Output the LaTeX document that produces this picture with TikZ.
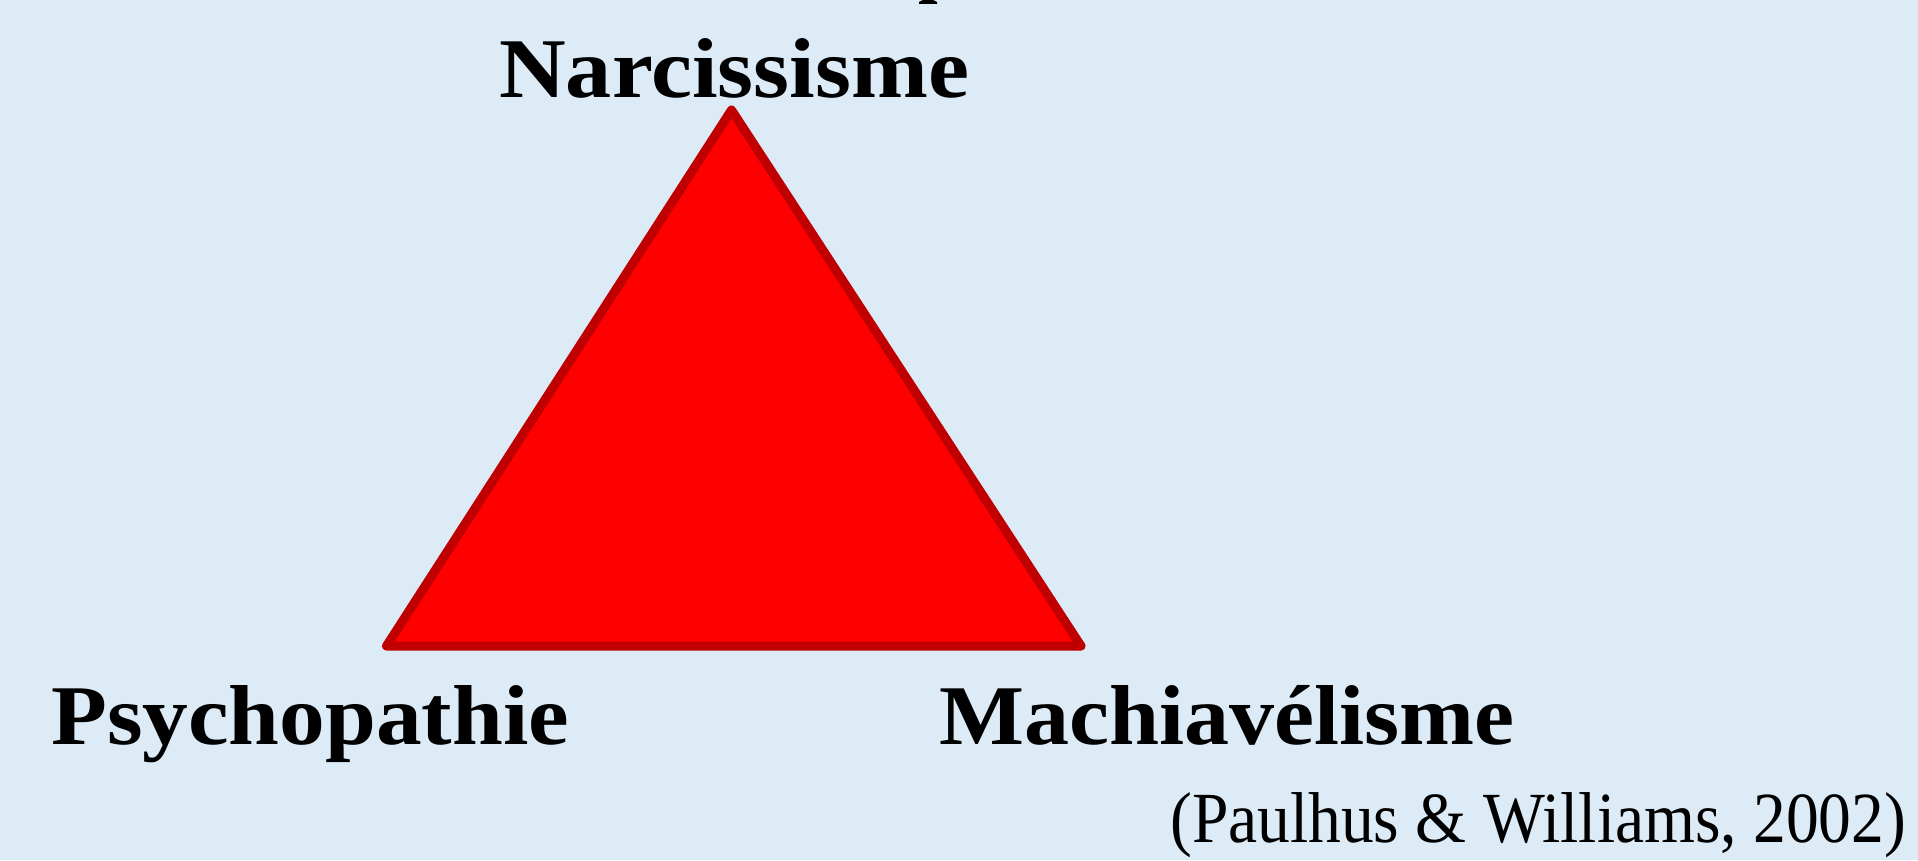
\documentclass[tikz,border=0pt]{standalone}
\usepackage{fontspec}
\setmainfont{Liberation Serif}
\definecolor{bg}{HTML}{DDEBF7}
\definecolor{trifill}{HTML}{FF0000}
\definecolor{triline}{HTML}{C00000}
\begin{document}
\begin{tikzpicture}[x=1pt,y=1pt,
  lbl/.style={anchor=base west, inner sep=0pt, font=\bfseries\fontsize{85}{90}\selectfont},
  cite/.style={anchor=base west, inner sep=0pt, font=\fontsize{72}{80}\selectfont},
  tri/.style={fill=trifill, draw=triline, line width=9pt, line join=round}]
\fill[bg] (0,0) rectangle (1918,860);
\useasboundingbox (0,0) rectangle (1918,860);
\coordinate (N) at (731.5,750);
\coordinate (P) at (386.5,214);
\coordinate (M) at (1081,214);
\draw[tri] (N) -- (P) -- (M) -- cycle;
\node[lbl] (narc) at (499,762) {\resizebox{470pt}{\height}{Narcissisme}};
\node[lbl] (psy) at (51,116) {\resizebox{518pt}{\height}{Psychopathie}};
\node[lbl] (mach) at (939,116) {\resizebox{575pt}{\height}{Machiavélisme}};
\node[cite] (cite) at (1170,18) {\resizebox{736pt}{\height}{(Paulhus \& Williams, 2002)}};
% fragment of a cut-off glyph at the top edge
\fill[black] (919,856) -- (937,856) -- (937,858) -- (933,860) -- (923,860) -- (919,858) -- cycle;
\end{tikzpicture}
\end{document}
